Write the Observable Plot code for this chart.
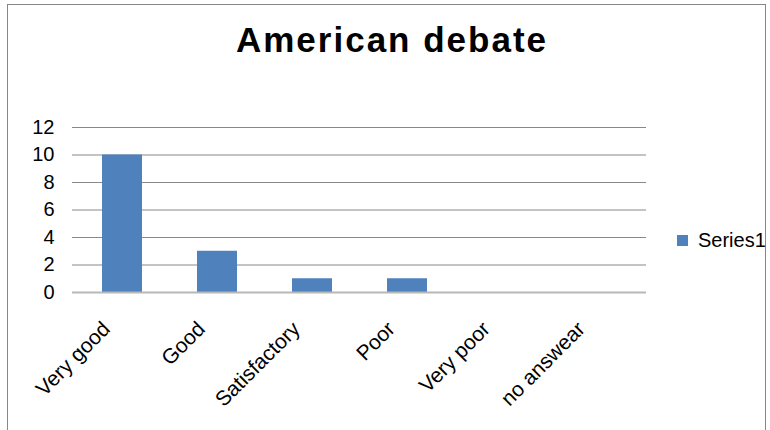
<!DOCTYPE html>
<html>
<head>
<meta charset="utf-8">
<script src="https://cdn.jsdelivr.net/npm/d3@7"></script>
<script src="https://cdn.jsdelivr.net/npm/@observablehq/plot@0.6"></script>
<style>
  html, body { margin: 0; padding: 0; background: #fff; }
  #wrap { position: relative; width: 770px; height: 430px; overflow: hidden; font-family: "Liberation Sans", Arial, sans-serif; }
  #frame { position: absolute; left: 7px; top: 4px; width: 759px; height: 460px; border: 1px solid #878787; box-sizing: border-box; }
  #title { position: absolute; left: 0; width: 784px; top: 20px; line-height: 40px; text-align: center; font-size: 35px; font-weight: bold; color: #000; letter-spacing: 2px; }
  #chart { position: absolute; left: 0; top: 0; }
  #legend { position: absolute; left: 677px; top: 224px; }
</style>
</head>
<body>
<div id="wrap">
  <div id="frame"></div>
  <div id="chart"></div>
  <div id="title">American debate</div>
  <div id="legend"></div>
</div>
<script>
const categories = ["Very good", "Good", "Satisfactory", "Poor", "Very poor", "no answear"];
const values = [10, 3, 1, 1, 0, 0];
const seriesName = "Series1";
const yTicks = [0, 2, 4, 6, 8, 10, 12];
const barColor = "#4f81bd";

const data = categories.map((c, i) => ({category: c, value: values[i], series: seriesName}));

const chart = Plot.plot({
  width: 770,
  height: 430,
  marginLeft: 72,
  marginRight: 124,
  marginTop: 127,
  marginBottom: 138,
  style: {fontFamily: "'Liberation Sans', Arial, sans-serif", fontSize: "20px", color: "#000", background: "transparent", overflow: "visible"},
  x: {domain: categories, paddingInner: 0.58, paddingOuter: 0.29, label: null},
  y: {domain: [0, 12], label: null},
  color: {domain: [seriesName], range: [barColor]},
  marks: [
    Plot.ruleY(yTicks.filter(d => d > 0), {stroke: "#888888", strokeWidth: 1}),
    Plot.barY(data, {x: "category", y: "value", fill: "series"}),
    Plot.ruleY([0], {stroke: "#b8b8b8", strokeWidth: 2}),
    Plot.axisY({ticks: yTicks, tickSize: 0, tickPadding: 18, fontSize: 20, label: null}),
    Plot.axisX({tickSize: 0, tickRotate: -45, tickPadding: 33, dx: -16, fontSize: 21, label: null})
  ]
});
document.getElementById("chart").appendChild(chart);

const legend = Plot.legend({
  color: {domain: [seriesName], range: [barColor]},
  swatchSize: 11,
  style: {fontFamily: "'Liberation Sans', Arial, sans-serif", fontSize: "20px", color: "#000"}
});
document.getElementById("legend").appendChild(legend);
</script>
</body>
</html>
